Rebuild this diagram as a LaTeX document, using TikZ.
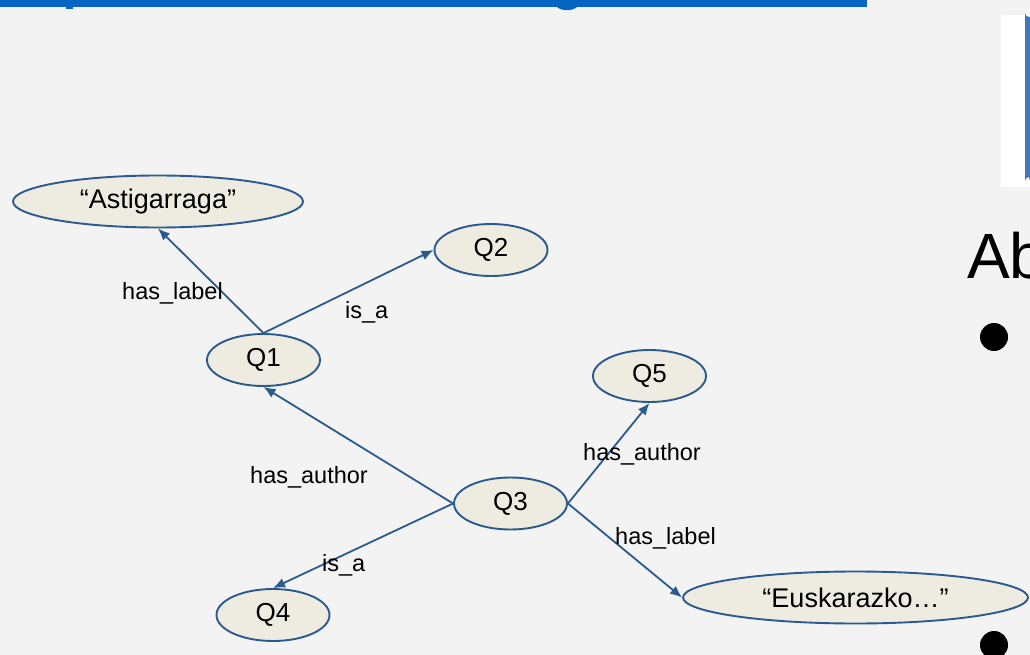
\documentclass[tikz,border=0pt]{standalone}
\usepackage{fontspec}
\setmainfont{Liberation Sans}
\usetikzlibrary{shapes.geometric,arrows.meta}
\definecolor{bgc}{HTML}{F3F3F3}
\definecolor{nodefill}{HTML}{EEECE1}
\definecolor{nodeline}{HTML}{2C5A8E}
\definecolor{barblue}{HTML}{0565C3}
\definecolor{boxblue}{HTML}{4174C4}
\tikzset{
  ent/.style={ellipse, draw=nodeline, line width=1.9pt, fill=nodefill, inner sep=0pt,
    minimum width=113pt, minimum height=52pt, font=\fontsize{26}{31}\selectfont},
  lit/.style={ent, minimum width=#1, font=\fontsize{27}{32}\selectfont},
  edge/.style={draw=nodeline, line width=1.8pt, -{Latex[length=12pt,width=10pt]}},
  lab/.style={anchor=base west, inner sep=0pt, font=\fontsize{23.5}{28}\selectfont}
}
\begin{document}
\begin{tikzpicture}[x=1pt,y=-1pt]
\useasboundingbox (0,0) rectangle (1030,655);
\fill[bgc] (0,0) rectangle (1030,655);
% title bar and descenders
\fill[barblue] (0,0) rectangle (867,7);
\fill[barblue] (66,6) rectangle (72.5,9);
\fill[barblue] (556,6) .. controls (560,11.5) and (574,11.5) .. (578,6) -- cycle;
% right box
\fill[white] (1001,15) rectangle (1030,187);
\fill[boxblue] (1031,17) -- (1029,17) arc[start angle=90,end angle=180,radius=4] -- (1025,181) arc[start angle=180,end angle=270,radius=4] -- (1031,185) -- cycle;
\node[anchor=base west, inner sep=0pt, font=\fontsize{64}{72}\selectfont] (ab) at (967,278) {Ab};
\fill[black] (994,337) circle (14);
\fill[black] (994,645) circle (14);
% nodes
\node[lit=290pt] (ast) at (158,201.5) {“Astigarraga”};
\node[ent] (q1) at (263.5,360) {Q1};
\node[ent] (q2) at (491,250) {Q2};
\node[ent] (q3) at (510.5,503.5) {Q3};
\node[ent] (q4) at (273,615) {Q4};
\node[ent] (q5) at (649.5,376) {Q5};
\node[lit=345pt] (eus) at (855.5,597.5) {“Euskarazko…”};
% edges
\draw[edge] (q1.north) -- (ast.south);
\draw[edge] (q1.north) -- (q2.west);
\draw[edge] (q3.west) -- (q1.south);
\draw[edge] (q3.west) -- (q4.north);
\draw[edge] (q3.east) -- (q5.south);
\draw[edge] (q3.east) -- (eus.west);
% labels
\node[lab] (l1) at (122,299) {has\_label};
\node[lab] (l2) at (345,318) {is\_a};
\node[lab] (l3) at (250,483) {has\_author};
\node[lab] (l4) at (322,571) {is\_a};
\node[lab] (l5) at (583,460) {has\_author};
\node[lab] (l6) at (615,544) {has\_label};
\end{tikzpicture}
\end{document}
